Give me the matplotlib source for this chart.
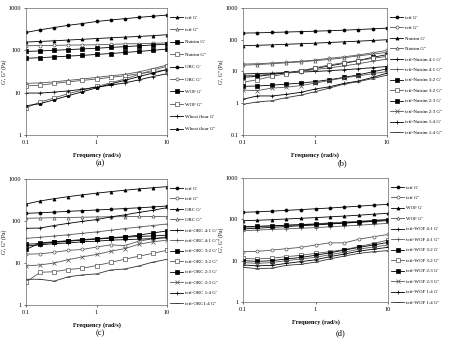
import matplotlib
matplotlib.use('Agg')
import matplotlib.pyplot as plt
from matplotlib.ticker import FixedLocator, FixedFormatter, NullLocator

plt.rcParams['font.family'] = ['Liberation Serif', 'DejaVu Serif']

freq = [0.1, 0.158, 0.251, 0.398, 0.631, 1, 1.58, 2.51, 3.98, 6.31, 10]

# panel (a): controls
a_labels = ["teff G'", "teff G''", "Nutrim G'", "Nutrim G''", "OBC G'", "OBC G''",
            "WOF G'", "WOF G''", "Wheat flour G'", "Wheat flour G''"]
a_values = [
    [157, 162, 168, 175, 182, 190, 198, 205, 213, 222, 234],
    [16.6, 17, 18, 19.5, 21, 23, 25, 27, 31, 37, 45],
    [65, 67, 70, 73, 76, 80, 84, 89, 94, 100, 107],
    [14.4, 15, 16.5, 18, 19.5, 21, 23, 25, 28, 31, 35],
    [265, 305, 345, 390, 430, 480, 520, 560, 600, 640, 680],
    [128, 130, 131, 133, 134, 135, 138, 142, 144, 147, 150],
    [94, 97, 100, 104, 108, 112, 117, 122, 128, 134, 140],
    [4.4, 6, 7.5, 9.5, 11.5, 14, 17, 21, 27, 34, 42],
    [9.8, 9.8, 10.3, 11, 12, 13.5, 15, 17, 20, 24, 28],
    [4.9, 5.5, 6.8, 8.5, 10.5, 13, 16, 19.5, 24, 29, 35],
]

# panel (b): teff-Nutrim
b_labels = ["teff G'", "teff G''", "Nutrim G'", "Nutrim G''",
            "teff-Nutrim 4:1 G'", "teff-Nutrim 4:1 G''", "teff-Nutrim 3:2 G'", "teff-Nutrim 3:2 G''",
            "teff-Nutrim 2:3 G'", "teff-Nutrim 2:3 G''", "teff-Nutrim 1:4 G'", "teff-Nutrim 1:4 G''"]
b_values = [
    [162, 165, 170, 175, 180, 186, 193, 200, 210, 220, 233],
    [17.1, 17.6, 18.5, 19.6, 21, 23, 26, 29, 33, 39, 46],
    [65, 67, 69, 72, 75, 78, 82, 86, 90, 95, 100],
    [15.8, 16.5, 17.5, 18.8, 20, 22, 24, 27, 31, 35, 40],
    [8.4, 8.6, 8.9, 9.2, 9.6, 10, 10.6, 11.3, 12.2, 13.2, 14.4],
    [7.3, 7.6, 8.3, 9, 10, 11.5, 13, 15, 17.5, 21, 24.5],
    [6.6, 7, 8, 9.2, 10.5, 12.5, 15, 18, 22, 28, 34],
    [4.6, 5.5, 7, 8.5, 10.5, 13, 16, 19, 22, 26, 30],
    [3.4, 3.5, 3.7, 4, 4.3, 4.8, 5.5, 6.5, 7.8, 9.8, 12.1],
    [2.6, 2.5, 3, 3.2, 3.6, 4.3, 5.2, 6.3, 7.3, 8.5, 10],
    [1.34, 1.7, 1.7, 1.9, 2.2, 2.8, 3.3, 4.2, 5, 6.5, 8.9],
    [0.93, 1.1, 1.2, 1.5, 1.8, 2.3, 3, 4, 4.8, 6, 7.7],
]

# panel (c): teff-ORC
c_labels = ["teff G'", "teff G''", "ORC G'", "ORC G''",
            "teff-ORC 4:1 G'", "teff-ORC 4:1 G''", "teff-ORC 3:2 G'", "teff-ORC 3:2 G''",
            "teff-ORC 2:3 G'", "teff-ORC 2:3 G''", "teff-ORC 1:4 G'", "teff-ORC1:4 G''"]
c_values = [
    [152, 157, 163, 170, 176, 183, 190, 198, 206, 216, 228],
    [16.2, 16.5, 18, 20, 21, 24, 27, 26, 33, 38, 42],
    [254, 300, 340, 380, 420, 460, 500, 540, 580, 620, 657],
    [116, 118, 120, 121, 123, 125, 126, 127, 128, 128, 127],
    [67, 68, 78, 88, 98, 108, 125, 140, 160, 180, 208],
    [38.6, 41, 44, 47, 51, 55, 60, 66, 72, 78, 85],
    [21, 30, 32, 34, 36, 38, 40, 42, 46, 52, 58],
    [3.5, 6, 6.2, 7, 7.5, 8.7, 10.3, 12.3, 14.5, 17, 20],
    [28, 29, 31, 33, 35, 37, 39, 41, 43, 44, 46],
    [8.5, 9, 10, 12, 14, 16, 19, 22, 28, 32, 35],
    [25.5, 27, 29, 30, 32, 33, 35, 36, 37, 38, 40],
    [4.1, 4.1, 3.7, 4.7, 5.2, 5.5, 6.8, 7.2, 8.5, 10.5, 12.2],
]

# panel (d): teff-WOF
d_labels = ["teff G'", "teff G''", "WOF G'", "WOF G''",
            "teff-WOF 4:1 G'", "teff-WOF 4:1 G''", "teff-WOF 3:2 G'", "teff-WOF 3:2 G''",
            "teff-WOF 2:3 G'", "teff-WOF 2:3 G''", "teff-WOF 1:4 G'", "teff-WOF 1:4 G''"]
d_values = [
    [148, 152, 158, 165, 172, 180, 188, 198, 208, 220, 231],
    [16.6, 16.8, 18, 19.5, 21, 24, 27, 27, 33, 38, 43],
    [93, 95, 98, 102, 106, 110, 115, 120, 126, 133, 140],
    [64, 66, 69, 72, 75, 78, 82, 86, 90, 95, 100],
    [58.5, 61, 64, 67, 70, 73, 77, 81, 85, 89, 93],
    [53, 55, 57, 59, 61, 63, 66, 69, 72, 76, 80],
    [66, 68, 70, 72, 74, 76, 79, 82, 86, 92, 98],
    [11.3, 11, 11.5, 12.5, 13.5, 15, 16.5, 18.5, 22, 26, 31.6],
    [10, 9.6, 10, 11, 12, 13.5, 15.5, 18, 21, 24, 27.7],
    [9, 8.6, 9, 10, 11, 12, 14, 16, 19, 21.5, 24],
    [7.9, 7.5, 7.7, 8.6, 9.5, 10.5, 12.5, 14.5, 17, 19, 21],
    [6.9, 6.4, 6.6, 7.7, 8.2, 9.2, 11, 13, 15, 16.5, 17.5],
]

# marker, filled, colour for each legend slot
styles_10 = [('^', True, 'k'), ('^', False, '#555555'), ('s', True, 'k'), ('s', False, '#555555'),
             ('o', True, 'k'), ('o', False, '#555555'), ('s', True, 'k'), ('s', False, '#555555'),
             ('+', True, 'k'), ('*', True, 'k')]
styles_12 = [('o', True, 'k'), ('o', False, '#555555'), ('^', True, 'k'), ('^', False, '#555555'),
             ('+', True, 'k'), ('+', True, '#555555'), ('s', True, 'k'), ('s', False, '#555555'),
             ('s', True, 'k'), ('x', True, '#555555'), ('+', True, 'k'), ('_', True, '#333333')]

fig = plt.figure(figsize=(4.5, 3.39), dpi=100)
W, H = 450.0, 339.0


def panel(box, labels, values, styles, ylim, yticks, letter, capx, capy, spacing):
    x0, y0, x1, y1 = box
    ax = fig.add_axes([x0 / W, 1 - y1 / H, (x1 - x0) / W, (y1 - y0) / H])
    for lab, val, (m, filled, col) in zip(labels, values, styles):
        ax.plot(freq, val, color=col, lw=0.6, marker=m, ms=2.2, mew=0.5,
                mfc=col if filled else 'white', mec=col, label=lab)
    ax.set_xscale('log')
    ax.set_yscale('log')
    ax.set_xlim(0.1, 10)
    ax.set_ylim(*ylim)
    ax.xaxis.set_major_locator(FixedLocator([0.1, 1, 10]))
    ax.xaxis.set_major_formatter(FixedFormatter(['0.1', '1', '10']))
    ax.yaxis.set_major_locator(FixedLocator(yticks))
    ax.yaxis.set_major_formatter(FixedFormatter([('%g' % t) for t in yticks]))
    ax.xaxis.set_minor_locator(NullLocator())
    ax.yaxis.set_minor_locator(NullLocator())
    ax.tick_params(labelsize=4.5, length=1.5, width=0.4, pad=2)
    for s in ax.spines.values():
        s.set_linewidth(0.5)
        s.set_color('#666666')
    ax.set_xlabel('Frequency (rad/s)', fontsize=4.5, fontweight='bold', labelpad=5)
    ax.set_ylabel("G', G'' (Pa)", fontsize=4, labelpad=1)
    ax.legend(loc='upper left', bbox_to_anchor=(1.0, 0.97), frameon=False, fontsize=3.5,
              handlelength=2.6, numpoints=1, labelspacing=spacing, handletextpad=0.3,
              borderaxespad=0.3)
    fig.text(capx / W, 1 - capy / H, letter, fontsize=6, ha='center', va='center')
    return ax


panel((26, 8, 167, 135), a_labels, a_values, styles_10, (1, 1000), [1, 10, 100, 1000],
      '(a)', 100, 163, 1.65)
panel((243, 8, 387, 135), b_labels, b_values, styles_12, (0.1, 1000), [0.1, 1, 10, 100, 1000],
      '(b)', 342, 163, 1.25)
panel((26, 179, 167, 305), c_labels, c_values, styles_12, (1, 1000), [1, 10, 100, 1000],
      '(c)', 100, 333, 1.25)
panel((243, 178, 388, 302), d_labels, d_values, styles_12, (1, 1000), [1, 10, 100, 1000],
      '(d)', 341, 333, 1.25)

fig.savefig('out.png', dpi=100)
